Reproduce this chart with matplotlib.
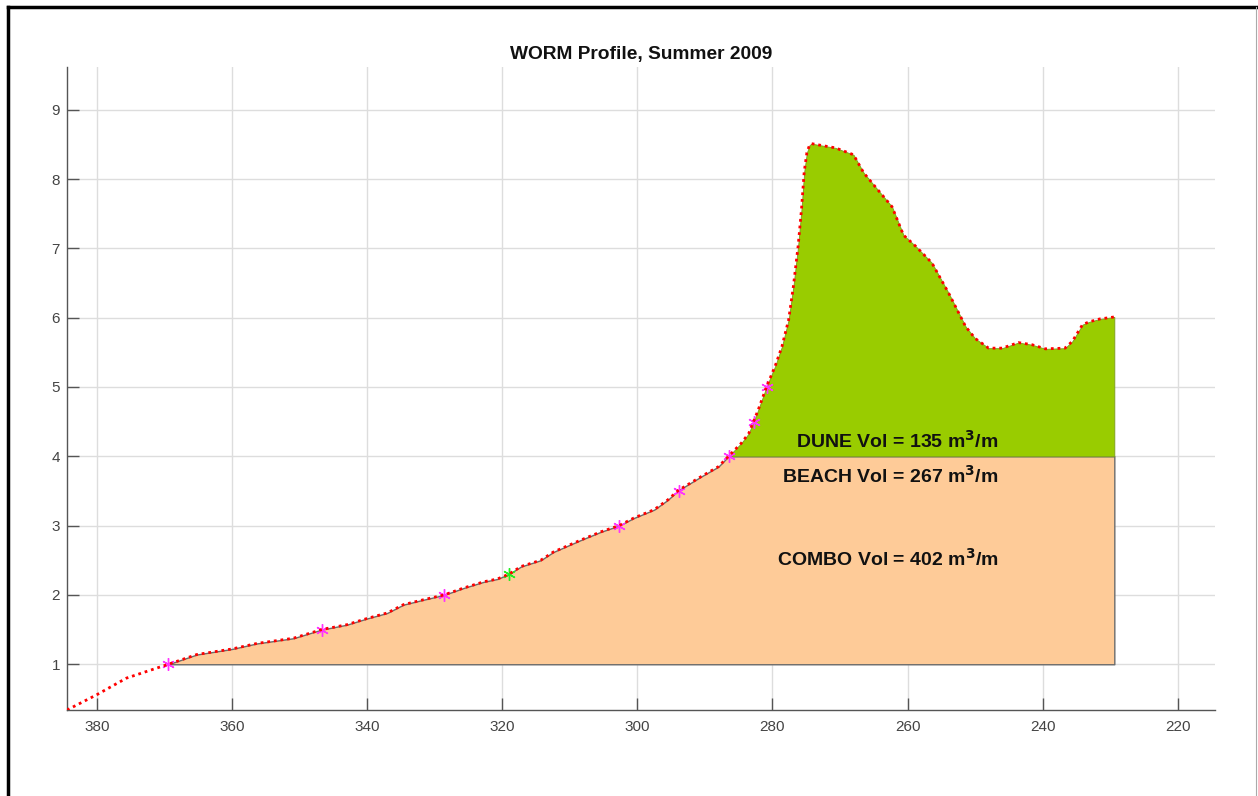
import numpy as np
import matplotlib
matplotlib.use('Agg')
import matplotlib.pyplot as plt
from matplotlib.lines import Line2D

plt.rcParams['font.family'] = ['Liberation Sans', 'DejaVu Sans']

# perfil medido (distancia, elevacion)
profile_x = [384.4, 380.0, 375.6, 369.4, 365.2, 360.0, 356.3, 350.9, 346.7, 343.0,
             340.0, 337.0, 334.6, 332.1, 328.6, 325.7, 322.7, 320.7, 319.0, 317.2,
             314.3, 312.4, 308.4, 305.4, 302.7, 300.5, 297.5, 295.5, 293.9, 290.5,
             288.0, 286.5, 284.6, 283.5, 282.8, 282.1, 281.4, 280.8, 279.6, 278.6,
             277.6, 276.9, 276.2, 275.7, 275.3, 274.9, 274.5, 274.2, 272.5, 270.7,
             268.0, 266.5, 264.8, 262.3, 260.6, 258.8, 256.4, 253.9, 251.4, 250.0,
             248.0, 246.0, 243.6, 241.6, 239.6, 236.7, 235.6, 234.1, 233.1, 231.6,
             229.4]
profile_y = [0.34, 0.56, 0.80, 1.00, 1.14, 1.22, 1.30, 1.375, 1.50, 1.57,
             1.66, 1.74, 1.86, 1.92, 2.00, 2.10, 2.19, 2.23, 2.30, 2.41,
             2.50, 2.62, 2.79, 2.91, 3.00, 3.11, 3.23, 3.37, 3.51, 3.71,
             3.85, 4.00, 4.19, 4.33, 4.50, 4.67, 4.86, 5.02, 5.30, 5.58,
             5.97, 6.45, 7.03, 7.56, 8.10, 8.38, 8.49, 8.51, 8.48, 8.45,
             8.35, 8.09, 7.89, 7.60, 7.19, 7.03, 6.79, 6.35, 5.87, 5.70,
             5.56, 5.56, 5.64, 5.61, 5.55, 5.56, 5.66, 5.90, 5.94, 5.98,
             6.01]

# puntos de referencia
star_x = [369.4, 346.7, 328.6, 302.7, 293.9, 286.5, 282.8, 280.8]
star_y = [1.0, 1.5, 2.0, 3.0, 3.5, 4.0, 4.5, 5.0]
green_x = [319.0]
green_y = [2.30]

base_level = 1.0
dune_level = 4.0
beach_start = 369.4
dune_start = 286.5

labels = ['DUNE Vol = 135 m$^\\mathbf{3}$/m',
          'BEACH Vol = 267 m$^\\mathbf{3}$/m',
          'COMBO Vol = 402 m$^\\mathbf{3}$/m']
label_x = [261.6, 262.6, 262.9]
label_y = [4.22, 3.72, 2.52]

x_ticks = [380, 360, 340, 320, 300, 280, 260, 240, 220]
y_ticks = [1, 2, 3, 4, 5, 6, 7, 8, 9]

px = np.array(profile_x)
py = np.array(profile_y)

fig = plt.figure(figsize=(12.58, 7.96), dpi=100)
ax = fig.add_axes([67 / 1258, 1 - 710 / 796, (1215 - 67) / 1258, (710 - 66.7) / 796])

# areas rellenas
m = px <= beach_start
ax.fill_between(px[m], base_level, np.minimum(py[m], dune_level),
                facecolor='#FECB98', edgecolor='#6b6b6b', linewidth=1.0, zorder=2)
m2 = px <= dune_start
ax.fill_between(px[m2], dune_level, py[m2],
                facecolor='#99CC00', edgecolor='#7a9a20', linewidth=0.6, zorder=2)

# marcadores
ax.plot(star_x, star_y, linestyle='none', marker=(6, 2, 0), markersize=9,
        markeredgewidth=1.0, color='#ff33ff', zorder=3)
ax.plot(green_x, green_y, linestyle='none', marker=(6, 2, 0), markersize=9,
        markeredgewidth=1.0, color='#22ee22', zorder=3)

# perfil
ax.plot(px, py, color='#ff0000', linewidth=2.0, linestyle=(0, (1.0, 1.4)), zorder=4)

for t, lx, ly in zip(labels, label_x, label_y):
    ax.text(lx, ly, t, ha='center', va='center', fontsize=14, fontweight='bold',
            color='#111111', zorder=5)

ax.set_xlim(384.4, 214.5)
ax.set_ylim(0.34, 9.62)
ax.set_xticks(x_ticks)
ax.set_yticks(y_ticks)
ax.grid(True, color='#dddddd', linewidth=1.0)
ax.set_axisbelow(True)
ax.spines['top'].set_visible(False)
ax.spines['right'].set_visible(False)
for s in ['left', 'bottom']:
    ax.spines[s].set_color('#555555')
    ax.spines[s].set_linewidth(1.0)
ax.tick_params(direction='in', length=8.5, width=1.0, color='#555555',
               labelcolor='#444444', labelsize=11)
ax.tick_params(axis='x', pad=7)
ax.tick_params(axis='y', pad=5)

fig.text(641 / 1258, 1 - 55 / 796, 'WORM Profile, Summer 2009', ha='center',
         va='center', fontsize=13.8, fontweight='bold', color='#111111')

# marco de la imagen
fig.add_artist(Line2D([8 / 1258, 8 / 1258], [0, 1 - 7 / 796], color='black',
                      linewidth=2.5, transform=fig.transFigure))
fig.add_artist(Line2D([8 / 1258, 1], [1 - 7 / 796, 1 - 7 / 796], color='black',
                      linewidth=2.5, transform=fig.transFigure))
fig.add_artist(Line2D([1255.5 / 1258, 1255.5 / 1258], [0, 1 - 7 / 796], color='#aaaaaa',
                      linewidth=0.8, transform=fig.transFigure))

fig.savefig('out.png', dpi=100)
